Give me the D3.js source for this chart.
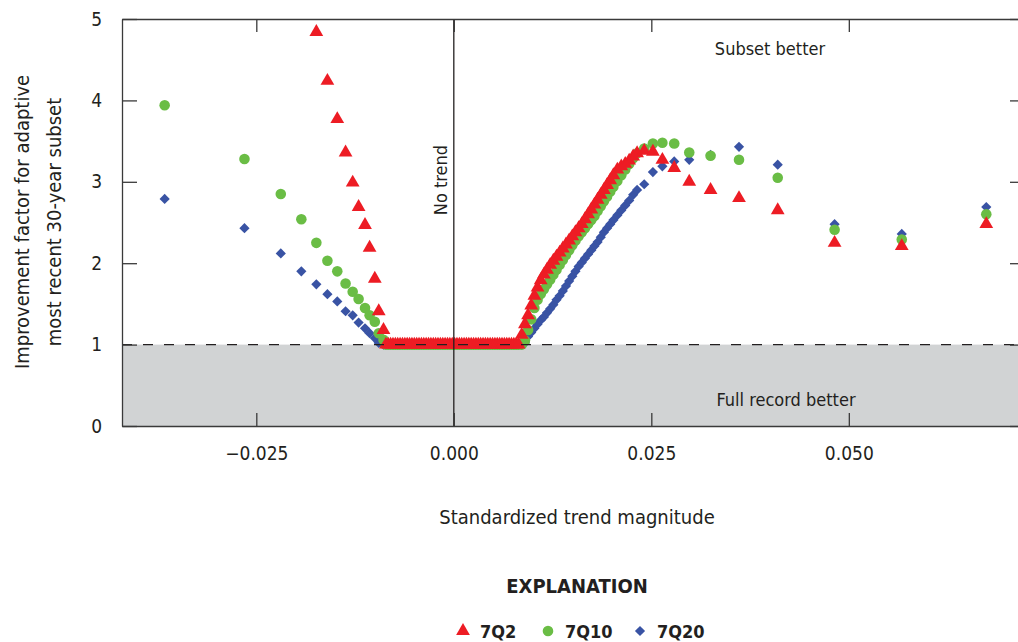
<!DOCTYPE html>
<html>
    <head>
        <meta charset="utf-8">
        <script src="https://d3js.org/d3.v7.min.js"></script>
        <style>
            body { margin: 0; background: white; }
            text { font-family: "Liberation Sans Narrow", "Arial Narrow", "DejaVu Sans Condensed", sans-serif; fill: #231f20; }
        </style>
        <script>
            // standardized trend magnitude, shared by the three series
            const trend = [
                -0.0366, -0.0265, -0.0219, -0.0193, -0.0174, -0.0160, -0.01475, -0.0137, -0.0128, -0.01205,
                -0.01124, -0.01066, -0.0100, -0.0095, -0.0089,
                -0.0086, -0.0083, -0.0080, -0.0077, -0.0074, -0.0071, -0.0068, -0.0065, -0.0062, -0.0059,
                -0.0056, -0.0053, -0.0050, -0.0047, -0.0044, -0.0041, -0.0038, -0.0035, -0.0032, -0.0029,
                -0.0026, -0.0023, -0.0020, -0.0017, -0.0014, -0.0011, -0.0008, -0.0005, -0.0002, 0.0001,
                0.0004, 0.0007, 0.0010, 0.0013, 0.0016, 0.0019, 0.0022, 0.0025, 0.0028, 0.0031,
                0.0034, 0.0037, 0.0040, 0.0043, 0.0046, 0.0049, 0.0052, 0.0055, 0.0058, 0.0061,
                0.0064, 0.0067, 0.0070, 0.0073, 0.0076, 0.0079, 0.0082,
                0.0086, 0.0090, 0.0094, 0.0098, 0.0102, 0.0106, 0.0110, 0.0114, 0.0118, 0.0122,
                0.0126, 0.0130, 0.0134, 0.0138, 0.0142, 0.0146, 0.0150, 0.0154, 0.0158, 0.0162,
                0.0166, 0.0170, 0.0174, 0.0178, 0.0182, 0.0186, 0.0190, 0.0194, 0.0198, 0.0202,
                0.0207, 0.0212, 0.0217, 0.0222, 0.0227, 0.0232,
                0.0241, 0.0252, 0.0264, 0.0279, 0.0298, 0.0325, 0.0361, 0.0410, 0.0482, 0.0567,
                0.0674
            ];

            // improvement factor, 7Q2 (null = off the top of the chart)
            const q2 = [
                null, null, null, null, 4.84, 4.24, 3.77, 3.36, 2.99, 2.69,
                2.47, 2.19, 1.81, 1.41, 1.18,
                1, 1, 1, 1, 1, 1, 1, 1, 1, 1,
                1, 1, 1, 1, 1, 1, 1, 1, 1, 1,
                1, 1, 1, 1, 1, 1, 1, 1, 1, 1,
                1, 1, 1, 1, 1, 1, 1, 1, 1, 1,
                1, 1, 1, 1, 1, 1, 1, 1, 1, 1,
                1, 1, 1, 1, 1, 1, 1,
                1.12, 1.25, 1.36, 1.48, 1.60, 1.70, 1.79, 1.86, 1.92, 1.98,
                2.03, 2.08, 2.13, 2.18, 2.23, 2.28, 2.33, 2.38, 2.43, 2.48,
                2.54, 2.60, 2.66, 2.72, 2.78, 2.84, 2.90, 2.96, 3.02, 3.08,
                3.15, 3.19, 3.22, 3.26, 3.31, 3.35,
                3.38, 3.37, 3.27, 3.17, 3.00, 2.90, 2.80, 2.65, 2.25, 2.21,
                2.48
            ];

            // improvement factor, 7Q10
            const q10 = [
                3.94, 3.28, 2.85, 2.54, 2.25, 2.03, 1.90, 1.75, 1.65, 1.56,
                1.45, 1.36, 1.28, 1.14, 1.06,
                1, 1, 1, 1, 1, 1, 1, 1, 1, 1,
                1, 1, 1, 1, 1, 1, 1, 1, 1, 1,
                1, 1, 1, 1, 1, 1, 1, 1, 1, 1,
                1, 1, 1, 1, 1, 1, 1, 1, 1, 1,
                1, 1, 1, 1, 1, 1, 1, 1, 1, 1,
                1, 1, 1, 1, 1, 1, 1,
                1.00, 1.05, 1.18, 1.31, 1.45, 1.55, 1.62, 1.68, 1.74, 1.80,
                1.86, 1.92, 1.98, 2.04, 2.10, 2.16, 2.22, 2.28, 2.33, 2.38,
                2.43, 2.48, 2.53, 2.58, 2.64, 2.70, 2.76, 2.82, 2.88, 2.94,
                3.01, 3.08, 3.15, 3.22, 3.29, 3.35,
                3.41, 3.47, 3.48, 3.47, 3.36, 3.32, 3.27, 3.05, 2.41, 2.29,
                2.60
            ];

            // improvement factor, 7Q20
            const q20 = [
                2.79, 2.43, 2.12, 1.90, 1.74, 1.62, 1.53, 1.41, 1.36, 1.27,
                1.20, 1.14, 1.08, 1.02, 1.00,
                1, 1, 1, 1, 1, 1, 1, 1, 1, 1,
                1, 1, 1, 1, 1, 1, 1, 1, 1, 1,
                1, 1, 1, 1, 1, 1, 1, 1, 1, 1,
                1, 1, 1, 1, 1, 1, 1, 1, 1, 1,
                1, 1, 1, 1, 1, 1, 1, 1, 1, 1,
                1, 1, 1, 1, 1, 1, 1,
                1.00, 1.02, 1.10, 1.15, 1.20, 1.25, 1.30, 1.34, 1.39, 1.44,
                1.49, 1.55, 1.60, 1.66, 1.72, 1.78, 1.84, 1.90, 1.96, 2.01,
                2.06, 2.11, 2.16, 2.21, 2.26, 2.32, 2.38, 2.43, 2.48, 2.53,
                2.59, 2.65, 2.71, 2.77, 2.84, 2.90,
                2.97, 3.12, 3.19, 3.25, 3.27, 3.33, 3.43, 3.21, 2.48, 2.36,
                2.69
            ];

            const xTicks = [-0.025, 0, 0.025, 0.05];
            const yTicks = [0, 1, 2, 3, 4, 5];
            const seriesNames = ["7Q2", "7Q10", "7Q20"];

            function makeSVG() {

                var svg = d3.select("#fig");

                const width = +svg.attr("width");
                const height = +svg.attr("height");

                const margin = { left: 122, top: 19, right: -7, bottom: 216 };
                const x0 = margin.left, x1 = width - margin.right;
                const y0 = height - margin.bottom, y1 = margin.top;

                const colors = { "7Q2": "#ed1c24", "7Q10": "#6abd45", "7Q20": "#3953a4" };
                const shapes = {
                    "7Q2": d3.symbol(d3.symbolTriangle, 82),
                    "7Q10": d3.symbol(d3.symbolCircle, 88),
                    "7Q20": d3.symbol(d3.symbolSquare, 52)
                };
                const rot = { "7Q2": 0, "7Q10": 0, "7Q20": 45 };

                // scales

                const xSc = d3.scaleLinear()
                              .domain([-0.042, 0.0723])
                              .range([x0, x1]);

                const ySc = d3.scaleLinear()
                              .domain([0, 5])
                              .range([y0, y1]);

                // shaded "full record better" band

                svg.append("rect")
                   .attr("x", x0)
                   .attr("y", ySc(1))
                   .attr("width", x1 - x0)
                   .attr("height", ySc(0) - ySc(1))
                   .attr("fill", "#d1d3d4");

                // points, blue first so red sits on top

                var series = { "7Q2": q2, "7Q10": q10, "7Q20": q20 };

                ["7Q20", "7Q10", "7Q2"].forEach(name => {
                    var pts = trend.map((t, i) => [t, series[name][i]])
                                   .filter(d => d[1] != null);
                    svg.append("g")
                       .selectAll("path")
                       .data(pts)
                       .enter()
                       .append("path")
                       .attr("d", shapes[name]())
                       .attr("transform", d => `translate(${xSc(d[0])},${ySc(d[1])}) rotate(${rot[name]})`)
                       .attr("fill", colors[name]);
                });

                // dashed line at factor 1 and the no-trend line, over the points

                svg.append("line")
                   .attr("x1", x0).attr("x2", x1)
                   .attr("y1", ySc(1)).attr("y2", ySc(1))
                   .attr("stroke", "#231f20")
                   .attr("stroke-width", 1.3)
                   .attr("stroke-dasharray", "10,11");

                svg.append("line")
                   .attr("x1", xSc(0)).attr("x2", xSc(0))
                   .attr("y1", y1).attr("y2", y0)
                   .attr("stroke", "#231f20")
                   .attr("stroke-width", 1.3);

                // axes, ticks pointing inward

                const xAxMkr = d3.axisBottom(xSc)
                                 .tickValues(xTicks)
                                 .tickSize(-13)
                                 .tickSizeOuter(0)
                                 .tickPadding(21)
                                 .tickFormat(d3.format(".3f"));

                var xg = svg.append("g")
                            .attr("transform", `translate(0,${y0})`);
                xAxMkr(xg);

                var xgTop = svg.append("g")
                               .attr("transform", `translate(0,${y1})`);
                d3.axisTop(xSc).tickValues(xTicks).tickSize(-13).tickSizeOuter(0).tickFormat("")(xgTop);

                const yAxMkr = d3.axisLeft(ySc)
                                 .tickValues(yTicks)
                                 .tickSize(-15)
                                 .tickSizeOuter(0)
                                 .tickPadding(20)
                                 .tickFormat(d3.format("d"));

                var yg = svg.append("g")
                            .attr("transform", `translate(${x0},0)`);
                yAxMkr(yg);

                var ygRight = svg.append("g")
                                 .attr("transform", `translate(${x1},0)`);
                d3.axisRight(ySc).tickValues(yTicks).tickSize(-15).tickSizeOuter(0).tickFormat("")(ygRight);

                svg.selectAll(".domain, .tick line")
                   .attr("stroke", "#3a3a3a")
                   .attr("stroke-width", 1.3);
                svg.selectAll(".tick text")
                   .attr("font-family", null)
                   .attr("font-size", 19)
                   .attr("fill", "#231f20");

                // annotations

                svg.append("text")
                   .attr("x", 770).attr("y", 55)
                   .attr("text-anchor", "middle")
                   .attr("font-size", 18)
                   .text("Subset better");

                svg.append("text")
                   .attr("x", 786).attr("y", 406)
                   .attr("text-anchor", "middle")
                   .attr("font-size", 18)
                   .text("Full record better");

                svg.append("text")
                   .attr("transform", `translate(${xSc(0) - 7},180) rotate(-90)`)
                   .attr("text-anchor", "middle")
                   .attr("font-size", 18)
                   .text("No trend");

                // axis titles

                var yt = svg.append("text")
                            .attr("transform", "translate(38,222) rotate(-90)")
                            .attr("text-anchor", "middle")
                            .attr("font-size", 20);
                yt.append("tspan").attr("x", 0).attr("y", -9).text("Improvement factor for adaptive");
                yt.append("tspan").attr("x", 0).attr("y", 23).text("most recent 30-year subset");

                svg.append("text")
                   .attr("x", 577).attr("y", 524)
                   .attr("text-anchor", "middle")
                   .attr("font-size", 20)
                   .text("Standardized trend magnitude");

                // legend

                svg.append("text")
                   .attr("x", 577).attr("y", 593)
                   .attr("text-anchor", "middle")
                   .attr("font-size", 20)
                   .attr("font-weight", "bold")
                   .text("EXPLANATION");

                const legX = { "7Q2": 463, "7Q10": 548, "7Q20": 640 };
                seriesNames.forEach(name => {
                    svg.append("path")
                       .attr("d", shapes[name]())
                       .attr("transform", `translate(${legX[name]},631) rotate(${rot[name]})`)
                       .attr("fill", colors[name]);
                    svg.append("text")
                       .attr("x", legX[name] + 17).attr("y", 638)
                       .attr("font-size", 18)
                       .attr("font-weight", "bold")
                       .text(name);
                });
            }
        </script>
    </head>
    <body onload="makeSVG()">

        <svg id="fig" width="1018" height="642"></svg>

    </body>
</html>
